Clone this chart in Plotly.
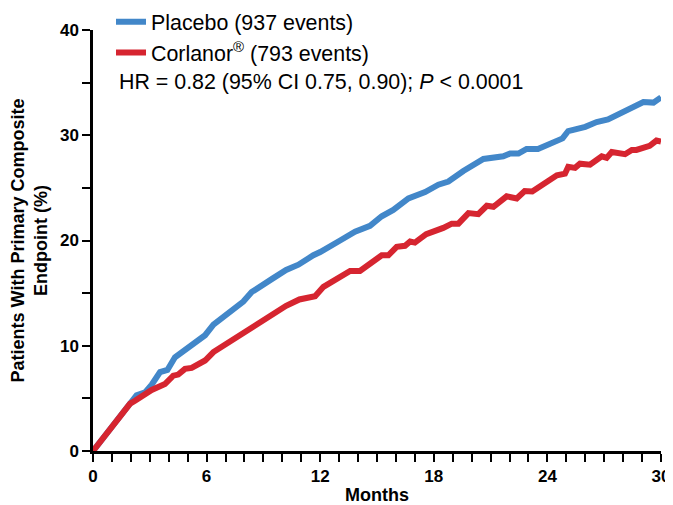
import plotly.graph_objects as go

# Placebo curve (months, cumulative % with primary composite endpoint)
placebo_months = [0, 1.0, 1.96, 2.3, 2.75, 3.1, 3.54, 3.93, 4.33, 5.12, 5.92, 6.36, 6.9, 7.33,
                  7.94, 8.38, 8.9, 9.5, 10.2, 10.85, 11.64, 12.0, 13.05, 13.84, 14.63, 15.25,
                  15.86, 16.66, 17.54, 18.24, 18.77, 19.56, 20.62, 21.67, 22.03, 22.47, 22.9,
                  23.5, 24.8, 25.1, 26.0, 26.6, 27.2, 27.84, 28.5, 29.07, 29.6, 30.0]
placebo_pct = [0, 2.3, 4.5, 5.3, 5.57, 6.3, 7.5, 7.7, 8.9, 9.9, 11.0, 12.0, 12.7, 13.4,
               14.2, 15.1, 15.75, 16.4, 17.2, 17.7, 18.6, 18.9, 20.0, 20.84, 21.4, 22.3,
               22.9, 24.0, 24.6, 25.3, 25.6, 26.6, 27.75, 28.0, 28.26, 28.26, 28.7,
               28.7, 29.7, 30.4, 30.8, 31.25, 31.5, 32.05, 32.7, 33.15, 33.1, 33.6]

# Corlanor curve
corlanor_months = [0, 1.0, 1.96, 2.22, 3.1, 3.8, 4.24, 4.5, 4.86, 5.21, 5.92, 6.36, 7.06, 7.5,
                   7.94, 8.38, 9.0, 10.2, 10.9, 11.73, 12.17, 13.05, 13.58, 14.1, 15.25, 15.6,
                   16.04, 16.48, 16.75, 17.0, 17.6, 18.5, 18.95, 19.3, 19.83, 20.35, 20.8,
                   21.15, 21.85, 22.38, 22.8, 23.2, 23.6, 23.96, 24.5, 24.93, 25.1, 25.46,
                   25.72, 26.25, 26.7, 26.87, 27.13, 27.4, 28.1, 28.46, 28.7, 29.16, 29.4,
                   29.76, 30.0]
corlanor_pct = [0, 2.3, 4.5, 4.77, 5.8, 6.36, 7.16, 7.26, 7.8, 7.9, 8.6, 9.4, 10.2, 10.8,
                11.2, 11.8, 12.4, 13.8, 14.4, 14.7, 15.6, 16.6, 17.1, 17.1, 18.6, 18.6,
                19.4, 19.5, 19.9, 19.8, 20.6, 21.2, 21.6, 21.6, 22.6, 22.5, 23.3,
                23.2, 24.2, 24.0, 24.7, 24.66, 25.1, 25.6, 26.2, 26.35, 27.0, 26.9,
                27.3, 27.2, 27.7, 28.0, 27.85, 28.4, 28.2, 28.6, 28.6, 28.95, 29.0,
                29.5, 29.4]

x_ticks = [0, 6, 12, 18, 24, 30]
y_ticks = [0, 10, 20, 30, 40]

series_names = ["Placebo (937 events)", "Corlanor<sup>®</sup> (793 events)"]
stats_text = "HR = 0.82 (95% CI 0.75, 0.90); <i>P</i> < 0.0001"

BLUE = "#4287c9"
RED = "#d62530"
FONT = "Liberation Sans, Arial, Helvetica, sans-serif"

fig = go.Figure()
fig.add_trace(go.Scatter(x=placebo_months, y=placebo_pct, mode="lines", name=series_names[0],
                         line=dict(color=BLUE, width=6)))
fig.add_trace(go.Scatter(x=corlanor_months, y=corlanor_pct, mode="lines", name=series_names[1],
                         line=dict(color=RED, width=6)))

axis_common = dict(
    showgrid=False, zeroline=False, showline=True, linecolor="black", linewidth=2.5,
    ticks="outside", ticklen=8, tickwidth=2, tickcolor="black",
    tickfont=dict(family=FONT, size=17, color="black", weight="bold"),
    automargin=False,
)

fig.update_layout(
    width=665, height=497,
    margin=dict(l=85, r=12, t=22, b=54, autoexpand=False),
    plot_bgcolor="white", paper_bgcolor="white",
    font=dict(family=FONT, color="black"),
    showlegend=True,
    legend=dict(x=0.0317, y=1.068, xanchor="left", yanchor="top",
                font=dict(family=FONT, size=21.4, color="black"),
                bgcolor="rgba(0,0,0,0)", itemclick=False),
    xaxis=dict(range=[0, 30], tickmode="array", tickvals=x_ticks,
               ticktext=[str(v) for v in x_ticks],
               minor=dict(dtick=1, ticks="outside", ticklen=8, tickwidth=2, tickcolor="black"),
               title=dict(text="Months", standoff=12,
                          font=dict(family=FONT, size=18, color="black", weight="bold")),
               **axis_common),
    yaxis=dict(range=[0, 40], tickmode="array", tickvals=y_ticks,
               ticktext=[str(v) for v in y_ticks],
               minor=dict(dtick=5, ticks="outside", ticklen=8, tickwidth=2, tickcolor="black"),
               title=dict(text="Patients With Primary Composite<br>Endpoint (%)", standoff=16,
                          font=dict(family=FONT, size=18, color="black", weight="bold")),
               **axis_common),
    annotations=[dict(text=stats_text, xref="paper", yref="paper", x=0.0417, y=0.877,
                      xanchor="left", yanchor="middle", showarrow=False,
                      font=dict(family=FONT, size=21.4, color="black"))],
)

fig.write_html("out.html")
